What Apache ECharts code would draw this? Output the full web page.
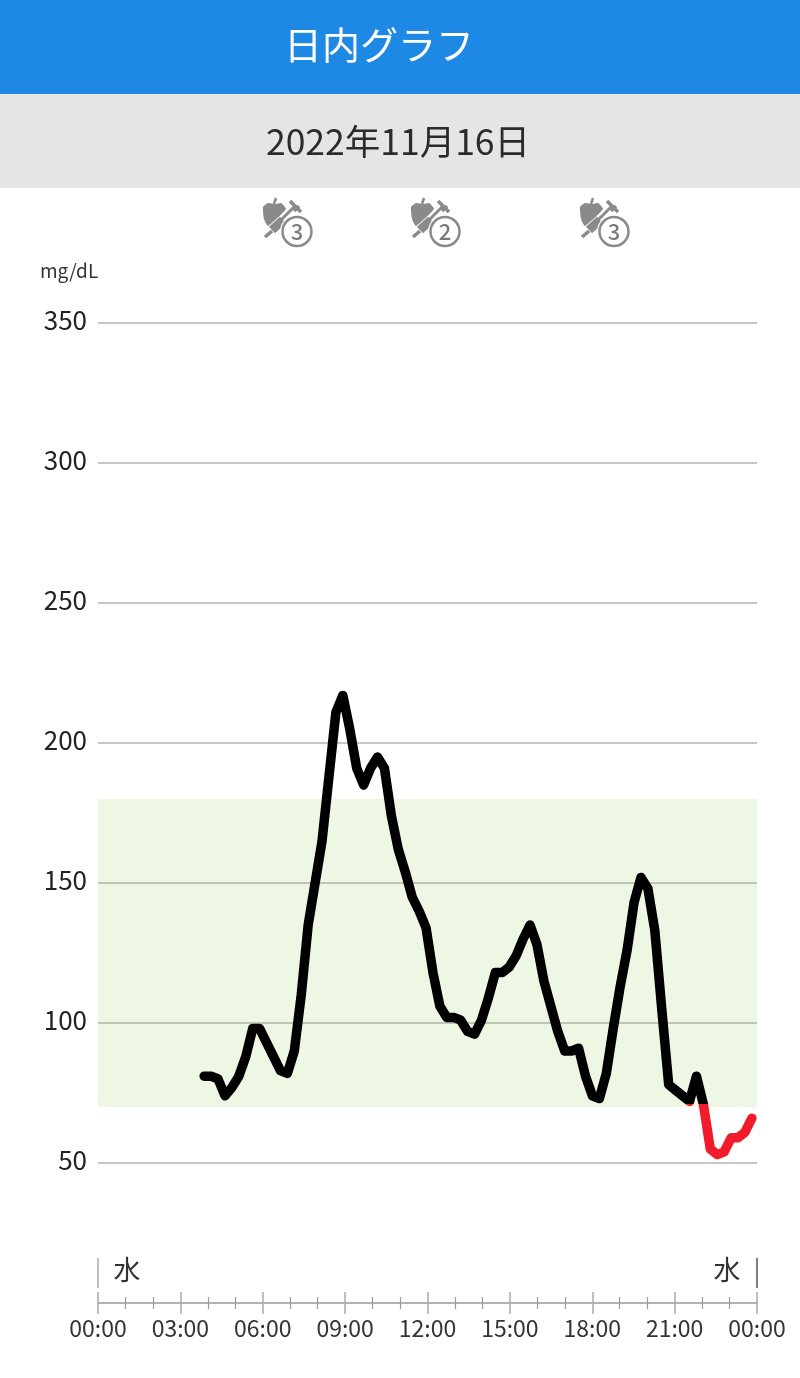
<!DOCTYPE html>
<html><head><meta charset="utf-8">
<style>html,body{margin:0;padding:0;background:#fff}#c{width:800px;height:1378px}</style>
<script src="https://cdn.jsdelivr.net/npm/echarts@6/dist/echarts.min.js"></script>
</head><body><div id="c"></div>
<script>
const title = '日内グラフ';
const dateText = '2022年11月16日';
const unitText = 'mg/dL';
const weekdayText = '水';
const startHour = 3 + 52 / 60;
const stepHours = 15.15 / 60;
const glucose = [81,81,80,74,77,81,88,98,98,93,88,83,82,90,110,135,150,165,188,211,217,205,191,185,191,195,191,174,162,154,145,140,134,118,106,102,102,101,97,96,101,109,118,118,120,124,130,135,128,115,106,97,90,90,91,81,74,73,82,98,113,126,143,152,148,133,105,78,76,74,72,81,71,55,53,54,59,59,61,66];
const doses = ['3','2','3'];
const doseX = [240,388,557];
const yTicks = [50,100,150,200,250,300,350];
const targetLow = 70, targetHigh = 180, alertLevel = 71;

const FONT = '"Noto Sans CJK JP","Noto Sans",sans-serif';
const points = glucose.map((v,i)=>[startHour + i*stepHours, v]);
const two = n => String(n).padStart(2,'0');
const GREY = '#8a8a8a';

function icon(x, label){
  return {type:'group', x:x, y:190, children:[
    {type:'polygon', shape:{smooth:0.15, points:[[23,17],[28,13],[35,14],[41,13],[46,19],[28,36],[24,29]]}, style:{fill:GREY}},
    {type:'line', shape:{x1:34,y1:14,x2:36,y2:8}, style:{stroke:GREY,lineWidth:2.5}},
    {type:'line', shape:{x1:41,y1:30,x2:55,y2:16}, style:{stroke:GREY,lineWidth:3}},
    {type:'line', shape:{x1:32,y1:40,x2:43,y2:30}, style:{stroke:GREY,lineWidth:9}},
    {type:'line', shape:{x1:25,y1:47,x2:32,y2:41}, style:{stroke:GREY,lineWidth:3.5}},
    {type:'line', shape:{x1:50,y1:11,x2:61,y2:22}, style:{stroke:GREY,lineWidth:3.5}},
    {type:'line', shape:{x1:54,y1:21,x2:59,y2:16}, style:{stroke:GREY,lineWidth:3.5}},
    {type:'circle', shape:{cx:57,cy:41.5,r:17}, style:{fill:'#fff'}},
    {type:'circle', shape:{cx:57,cy:41.5,r:14.5}, style:{fill:'#fff',stroke:GREY,lineWidth:2.5}},
    {type:'text', x:57, y:41.5, style:{text:label, fill:'#7a7a7a', font:'500 22px '+FONT, align:'center', verticalAlign:'middle'}}
  ]};
}

const chart = echarts.init(document.getElementById('c'), null, {renderer:'canvas'});
chart.setOption({
  animation:false,
  backgroundColor:'#fff',
  graphic:[
    {type:'rect', shape:{x:0,y:0,width:800,height:94}, style:{fill:'#1E88E5'}},
    {type:'rect', shape:{x:0,y:94,width:800,height:94}, style:{fill:'#E5E5E5'}},
    {type:'text', x:379, y:45, style:{text:title, fill:'#fff', font:'38px '+FONT, align:'center', verticalAlign:'middle'}},
    {type:'text', x:398, y:142, style:{text:dateText, fill:'#2b2b2b', font:'35.5px '+FONT, align:'center', verticalAlign:'middle'}},
    {type:'text', x:40, y:271, style:{text:unitText, fill:'#333', font:'19px '+FONT, align:'left', verticalAlign:'middle'}},
    {type:'text', x:127, y:1270, style:{text:weekdayText, fill:'#333', font:'27px '+FONT, align:'center', verticalAlign:'middle'}},
    {type:'text', x:727, y:1270, style:{text:weekdayText, fill:'#333', font:'27px '+FONT, align:'center', verticalAlign:'middle'}},
    {type:'line', shape:{x1:98,y1:1258,x2:98,y2:1288}, style:{stroke:'#aaa',lineWidth:1.5}},
    {type:'line', shape:{x1:757,y1:1258,x2:757,y2:1288}, style:{stroke:'#555',lineWidth:1.5}},
    ...doses.map((d,i)=>icon(doseX[i], d))
  ],
  grid:{left:98, right:43, top:323, height:840},
  visualMap:{show:false, type:'piecewise', seriesIndex:0, dimension:1,
    pieces:[{gte:0,lte:alertLevel,color:'#F01C2C'},{gt:alertLevel,lte:1000,color:'#000'}]},
  xAxis:[
    {type:'value', min:0, max:24, interval:3, position:'bottom', offset:140,
     axisLine:{show:true,onZero:false,lineStyle:{color:'#999',width:1.5}},
     axisTick:{show:true,length:11,lineStyle:{color:'#aaa',width:1.5}},
     minorTick:{show:true,splitNumber:3,length:6,lineStyle:{color:'#999',width:1.2}},
     splitLine:{show:false},
     axisLabel:{fontFamily:FONT,fontSize:23,color:'#333',margin:14,hideOverlap:false,showMinLabel:true,showMaxLabel:true,
       formatter:v=>two(v%24)+':00'}},
    {type:'value', min:0, max:24, interval:3, position:'bottom', offset:140,
     axisLine:{show:false,onZero:false},
     axisTick:{show:true,inside:true,length:11,lineStyle:{color:'#aaa',width:1.5}},
     minorTick:{show:true,splitNumber:3,length:6,lineStyle:{color:'#999',width:1.2}},
     splitLine:{show:false},
     axisLabel:{show:false}}
  ],
  yAxis:{type:'value', min:yTicks[0], max:yTicks[yTicks.length-1], interval:50,
    axisLine:{show:false}, axisTick:{show:false},
    splitLine:{show:true,lineStyle:{color:'#b4b4b4',width:1.5}},
    axisLabel:{fontFamily:FONT,fontSize:26,color:'#222',margin:11,verticalAlign:'bottom',lineHeight:6}},
  series:[
    {type:'line', data:points, xAxisIndex:0, showSymbol:false, symbol:'none', smooth:false, z:5,
     lineStyle:{width:9.5,cap:'round',join:'round'},
     markArea:{silent:true, itemStyle:{color:'rgba(139,195,74,0.15)'},
       data:[[{yAxis:targetLow},{yAxis:targetHigh}]]}}
  ]
});
</script></body></html>
